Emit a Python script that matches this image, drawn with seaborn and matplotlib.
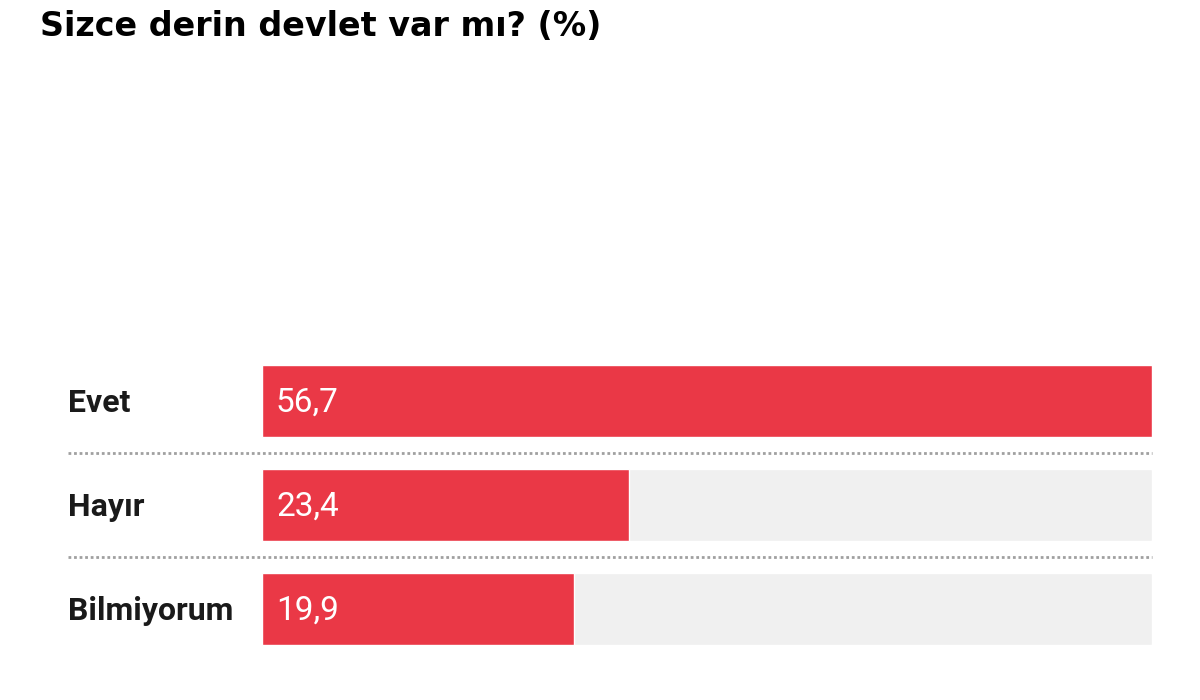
import matplotlib
matplotlib.use("Agg")
import matplotlib.pyplot as plt
import seaborn as sns
import pandas as pd

categories = ["Evet", "Hayır", "Bilmiyorum"]
values = [56.7, 23.4, 19.9]
value_labels = ["56,7", "23,4", "19,9"]
title = "Sizce derin devlet var mı? (%)"

sns.set_style("white")
plt.rcParams["font.family"] = ["Roboto", "DejaVu Sans"]

W, H = 1200, 700
fig = plt.figure(figsize=(12, 7), dpi=100)
fig.patch.set_facecolor("white")

x0, x1 = 262, 1152
y_top, y_bot = 349, 661
ax = fig.add_axes([x0 / W, (H - y_bot) / H, (x1 - x0) / W, (y_bot - y_top) / H])

df = pd.DataFrame({"cat": categories, "val": values})
vmax = max(values)
track = pd.DataFrame({"cat": categories, "val": [vmax] * len(values)})

sns.barplot(data=track, x="val", y="cat", orient="h", color="#F0F0F0",
            width=0.69, ax=ax, saturation=1)
sns.barplot(data=df, x="val", y="cat", orient="h", color="#EA3846",
            width=0.69, ax=ax, saturation=1)

ax.set_xlim(0, vmax)
ax.set_ylim(2.5, -0.5)
ax.set_xlabel("")
ax.set_ylabel("")
ax.set_xticks([])
ax.set_yticks([])
for s in ax.spines.values():
    s.set_visible(False)
ax.set_facecolor("none")

left_frac = -(x0 - 68) / (x1 - x0)
for i, (c, lab) in enumerate(zip(categories, value_labels)):
    ax.text(left_frac, i + 0.02, c, transform=ax.get_yaxis_transform(),
            ha="left", va="center", fontsize=23, fontweight="bold", color="#1a1a1a")
    ax.text(14 / (x1 - x0), i + 0.02, lab, transform=ax.get_yaxis_transform(),
            ha="left", va="center", fontsize=24, color="white")

for yy in [0.5, 1.5]:
    ax.plot([left_frac, 1.0], [yy, yy], transform=ax.get_yaxis_transform(),
            color="#a0a0a0", lw=2.0, ls=(0, (1, 1)), clip_on=False)

fig.text(40 / W, 1 - 26 / H, title, ha="left", va="center",
         fontsize=24, fontweight="heavy", color="black",
         family=["DejaVu Sans"])

fig.savefig("out.png", dpi=100, facecolor="white")
